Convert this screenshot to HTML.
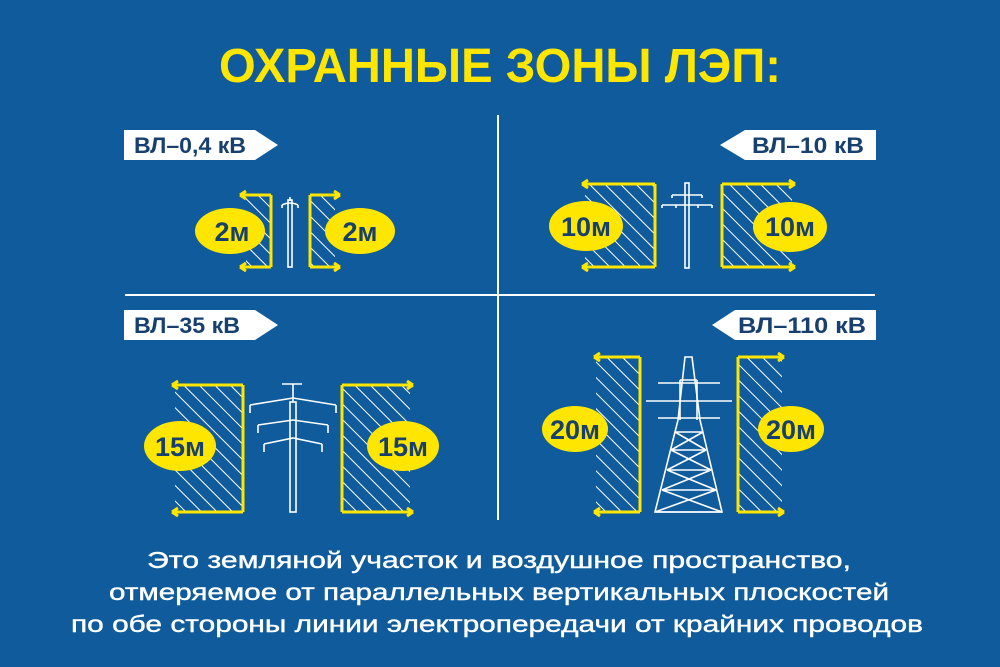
<!DOCTYPE html>
<html><head><meta charset="utf-8"><style>
html,body{margin:0;padding:0;background:#0f5b9b;}
svg{display:block}
</style></head><body>
<svg width="1000" height="667" viewBox="0 0 1000 667" xmlns="http://www.w3.org/2000/svg">
<defs>
<pattern id="h" width="11" height="11" patternUnits="userSpaceOnUse" patternTransform="rotate(-45)">
<rect width="11" height="11" fill="#0f5b9b"/>
<line x1="0" y1="0" x2="0" y2="11" stroke="#fff" stroke-width="2"/>
</pattern>
</defs>
<rect width="1000" height="667" fill="#0f5b9b"/>
<text x="500" y="82" text-anchor="middle" font-family="Liberation Sans, sans-serif" font-weight="bold" font-size="48" fill="#ffe600" textLength="562" lengthAdjust="spacingAndGlyphs">ОХРАННЫЕ ЗОНЫ ЛЭП:</text>

<line x1="498" y1="115" x2="498" y2="520" stroke="#fff" stroke-width="2"/>
<line x1="125" y1="295" x2="875" y2="295" stroke="#fff" stroke-width="2"/>

<g font-family="Liberation Sans, sans-serif" font-weight="bold" font-size="22" fill="#17406e">
<polygon points="124,130 255,130 278,145 255,160 124,160" fill="#fff"/>
<text x="134" y="153" textLength="112" lengthAdjust="spacingAndGlyphs">ВЛ–0,4 кВ</text>
<polygon points="876,130 745,130 720,145 745,160 876,160" fill="#fff"/>
<text x="752" y="153" textLength="112" lengthAdjust="spacingAndGlyphs">ВЛ–10 кВ</text>
<polygon points="124,310 255,310 278,325 255,340 124,340" fill="#fff"/>
<text x="134" y="333" textLength="106" lengthAdjust="spacingAndGlyphs">ВЛ–35 кВ</text>
<polygon points="876,310 735,310 712,325 735,340 876,340" fill="#fff"/>
<text x="738" y="333" textLength="128" lengthAdjust="spacingAndGlyphs">ВЛ–110 кВ</text>
</g>

<g stroke="#ffe600" stroke-width="3" fill="none">
<rect x="246" y="195" width="25" height="72" fill="url(#h)" stroke="none"/>
<path d="M271,195 V267 M271,195 H240 M271,267 H240"/>
<path d="M240,195 l6,-4 M240,195 l6,4 M240,267 l6,-4 M240,267 l6,4"/>
<rect x="310" y="195" width="25" height="72" fill="url(#h)" stroke="none"/>
<path d="M310,195 V267 M310,195 H340 M310,267 H340"/>
<path d="M340,195 l-6,-4 M340,195 l-6,4 M340,267 l-6,-4 M340,267 l-6,4"/>
<rect x="585" y="184" width="70" height="83" fill="url(#h)" stroke="none"/>
<path d="M655,184 V267 M655,184 H582 M655,267 H582"/>
<path d="M582,184 l6,-4 M582,184 l6,4 M582,267 l6,-4 M582,267 l6,4"/>
<rect x="722" y="184" width="70" height="83" fill="url(#h)" stroke="none"/>
<path d="M722,184 V267 M722,184 H795 M722,267 H795"/>
<path d="M795,184 l-6,-4 M795,184 l-6,4 M795,267 l-6,-4 M795,267 l-6,4"/>
<rect x="175" y="385" width="68" height="127" fill="url(#h)" stroke="none"/>
<path d="M243,385 V512 M243,385 H172 M243,512 H172"/>
<path d="M172,385 l6,-4 M172,385 l6,4 M172,512 l6,-4 M172,512 l6,4"/>
<rect x="342" y="385" width="68" height="127" fill="url(#h)" stroke="none"/>
<path d="M342,385 V512 M342,385 H413 M342,512 H413"/>
<path d="M413,385 l-6,-4 M413,385 l-6,4 M413,512 l-6,-4 M413,512 l-6,4"/>
<rect x="596" y="357" width="44" height="155" fill="url(#h)" stroke="none"/>
<path d="M640,357 V512 M640,357 H594 M640,512 H594"/>
<path d="M594,357 l6,-4 M594,357 l6,4 M594,512 l6,-4 M594,512 l6,4"/>
<rect x="738" y="357" width="44" height="155" fill="url(#h)" stroke="none"/>
<path d="M738,357 V512 M738,357 H784 M738,512 H784"/>
<path d="M784,357 l-6,-4 M784,357 l-6,4 M784,512 l-6,-4 M784,512 l-6,4"/>
</g>

<g stroke="#fff" stroke-width="1.6" fill="none">
<rect x="288" y="200" width="4" height="67"/>
<path d="M290,197 v4 M282,205 q8,-4 16,0 M282,205 v3 M298,205 v3"/>
<rect x="685" y="183" width="4" height="85"/>
<path d="M672,195 H702 M662,205 H712 M672,195 v3 M702,195 v3 M662,205 v3 M676,205 v3 M698,205 v3 M712,205 v3"/>
<rect x="290" y="402" width="6" height="110"/>
<path d="M282,384 H302 M293,384 V402 M250,405 L293,398 L336,405 M250,405 v8 M336,405 v8 M258,425 L293,420 L328,425 M258,425 v8 M328,425 v8 M264,444 L293,438 L322,444 M264,444 v8 M322,444 v8"/>
<path d="M685,357 L692,357 L700,420 L722,512 L655,512 L678,420 Z"/>
<path d="M680,380 H697 M680,380 V420 M697,380 V420"/>
<path d="M658,383 H720 M646,401 H732 M658,418 H720"/>
<path d="M655,512 L722,512 M662,490 H716 M667,470 H711 M671,450 H706 M675,432 H703 M662,490 L711,470 M716,490 L667,470 M667,470 L706,450 M711,470 L671,450 M671,450 L703,432 M706,450 L675,432 M655,512 L716,490 M722,512 L662,490"/>
</g>

<g fill="#ffe600">
<ellipse cx="230" cy="231" rx="35" ry="23"/>
<ellipse cx="360" cy="231" rx="35" ry="23"/>
<ellipse cx="586" cy="226" rx="37" ry="25"/>
<ellipse cx="790" cy="227" rx="37" ry="25"/>
<ellipse cx="180" cy="446" rx="36" ry="25"/>
<ellipse cx="403" cy="446" rx="36" ry="25"/>
<ellipse cx="575" cy="429" rx="33" ry="23"/>
<ellipse cx="791" cy="429" rx="33" ry="23"/>
</g>
<g font-family="Liberation Sans, sans-serif" font-size="27" font-weight="bold" fill="#17406e" text-anchor="middle">
<text x="232" y="241">2м</text>
<text x="360" y="241">2м</text>
<text x="586" y="236">10м</text>
<text x="790" y="236">10м</text>
<text x="180" y="456">15м</text>
<text x="403" y="456">15м</text>
<text x="575" y="439">20м</text>
<text x="791" y="439">20м</text>
</g>

<g font-family="Liberation Sans, sans-serif" font-size="23" fill="#fff" text-anchor="middle" stroke="#fff" stroke-width="0.4">
<text x="499" y="568" textLength="704" lengthAdjust="spacingAndGlyphs">Это земляной участок и воздушное пространство,</text>
<text x="499" y="600" textLength="780" lengthAdjust="spacingAndGlyphs">отмеряемое от параллельных вертикальных плоскостей</text>
<text x="497" y="632" textLength="852" lengthAdjust="spacingAndGlyphs">по обе стороны линии электропередачи от крайних проводов</text>
</g>
</svg>
</body></html>
